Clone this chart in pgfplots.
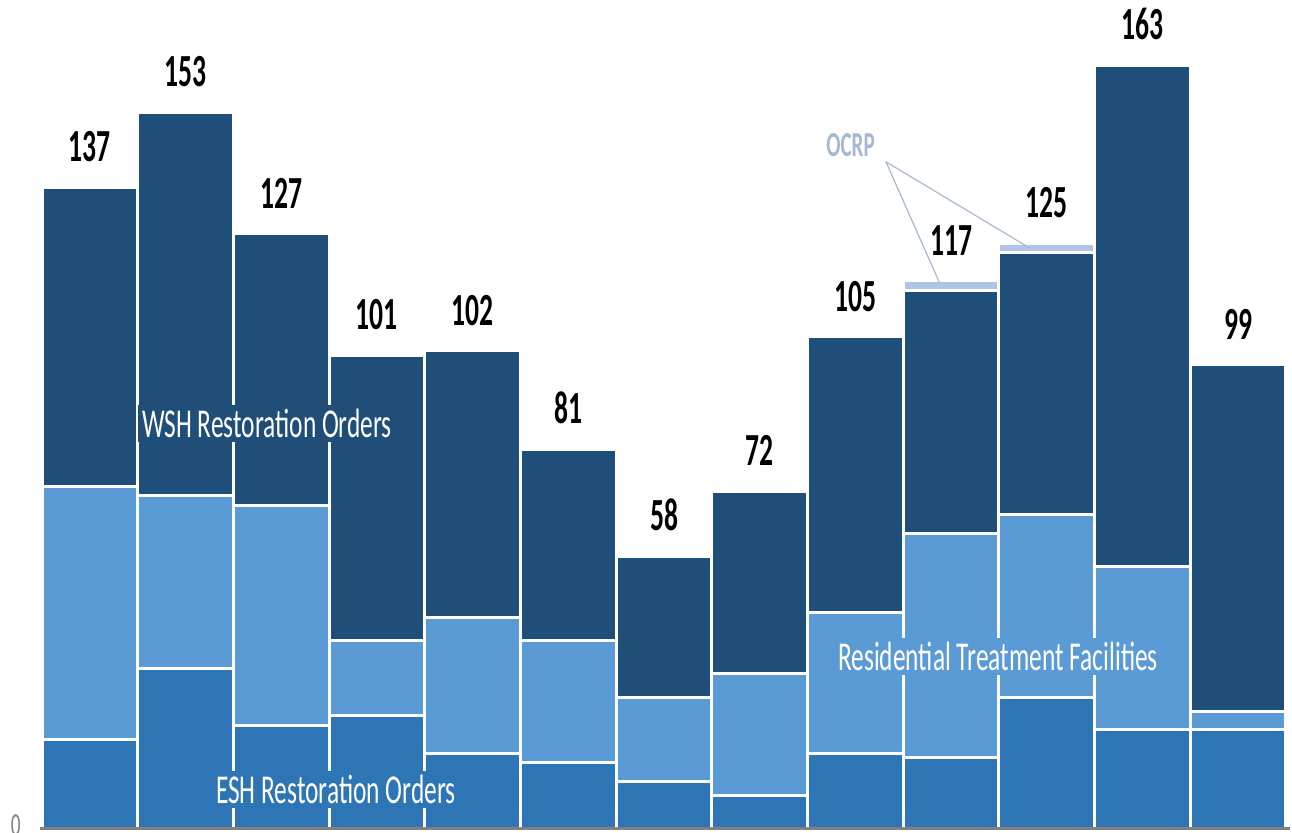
\documentclass[border=0pt]{standalone}
\usepackage{fontspec}
\setmainfont{Carlito}[FakeStretch=0.6]
\newfontfamily\catfont{Carlito}[FakeStretch=0.62]
\usepackage{pgfplots}
\pgfplotsset{compat=1.18}
\usepackage{pgfplotstable}
\definecolor{wsh}{HTML}{1F4E79}
\definecolor{rtf}{HTML}{5B9BD5}
\definecolor{esh}{HTML}{2E75B6}
\definecolor{ocrp}{HTML}{B0C4E6}
\definecolor{ocrptext}{HTML}{A6B7CF}

\pgfplotstableread{
x esh rtf wsh ocrp total
0 19 54 64 0 137
1 34 37 82 0 153
2 22 47 58 0 127
3 24 16 61 0 101
4 16 29 57 0 102
5 14 26 41 0 81
6 10 18 30 0 58
7 7 26 39 0 72
8 16 30 59 0 105
9 15 48 52 2 117
10 28 39 56 2 125
11 21 35 107 0 163
12 21 4 74 0 99
}\data

\pgfplotsset{common/.style={
  scale only axis,
  width=625bp, height=414bp,
  xmin=-0.521, xmax=12.542,
  ymin=0, ymax=177,
  bar width=1,
  clip=false,
}}

\begin{document}
\begin{tikzpicture}
\begin{axis}[
  common,
  name=ax,
  ybar stacked,
  axis on top,
  axis x line=bottom,
  axis y line=left,
  x axis line style={-, draw=gray, line width=1.5bp},
  y axis line style={draw=none},
  xtick=\empty,
  ytick={0},
  major tick length=0pt,
  /pgf/number format/assume math mode=true,
  yticklabel style={anchor=east, inner sep=0pt, xshift=-9.5bp, yshift=1.5bp, text=gray, font=\fontsize{16bp}{18bp}\selectfont},
  every axis plot/.append style={draw=white, line width=1.5bp},
]
\addplot[fill=esh] table[x=x, y=esh] \data;
\addplot[fill=rtf] table[x=x, y=rtf] \data;
\addplot[fill=wsh] table[x=x, y=wsh] \data;
\addplot[fill=ocrp] table[x=x, y=ocrp] \data;

\coordinate (ocrpA) at (axis cs:8.32,142.4);
\coordinate (ocrpB) at (axis cs:8.88,116.5);
\coordinate (ocrpC) at (axis cs:9.82,124);
\coordinate (ocrpL) at (axis cs:7.95,146);
\coordinate (wshL) at (axis cs:1.851,86.4);
\coordinate (rtfL) at (axis cs:9.49,36.6);
\coordinate (eshL) at (axis cs:2.57,8.3);
\end{axis}

\begin{axis}[
  common,
  ybar,
  hide axis,
]
\addplot[draw=none, fill=none, nodes near coords,
  nodes near coords style={anchor=south, inner sep=0pt, yshift=12.5bp, text=black,
    font=\fontsize{23bp}{26bp}\selectfont\bfseries},
  /pgf/number format/assume math mode=true]
  table[x=x, y=total] \data;
\end{axis}

\draw[ocrptext, line width=0.6bp] (ocrpA) -- (ocrpB);
\draw[ocrptext, line width=0.6bp] (ocrpA) -- (ocrpC);
\node[text=ocrptext, font=\fontsize{17.5bp}{20bp}\selectfont\bfseries] at (ocrpL) {OCRP};

\node[fill=wsh, text=white, inner sep=2bp, font=\fontsize{20.5bp}{23bp}\catfont] at (wshL) {WSH Restoration Orders};
\node[fill=rtf, text=white, inner sep=2bp, font=\fontsize{20.5bp}{23bp}\catfont] at (rtfL) {Residential Treatment Facilities};
\node[fill=esh, text=white, inner sep=2bp, font=\fontsize{20.5bp}{23bp}\catfont] at (eshL) {ESH Restoration Orders};

\pgfresetboundingbox
\useasboundingbox (ax.south west) ++(-20bp,-2.5bp) rectangle ++(646bp,416.5bp);
\end{tikzpicture}
\end{document}
